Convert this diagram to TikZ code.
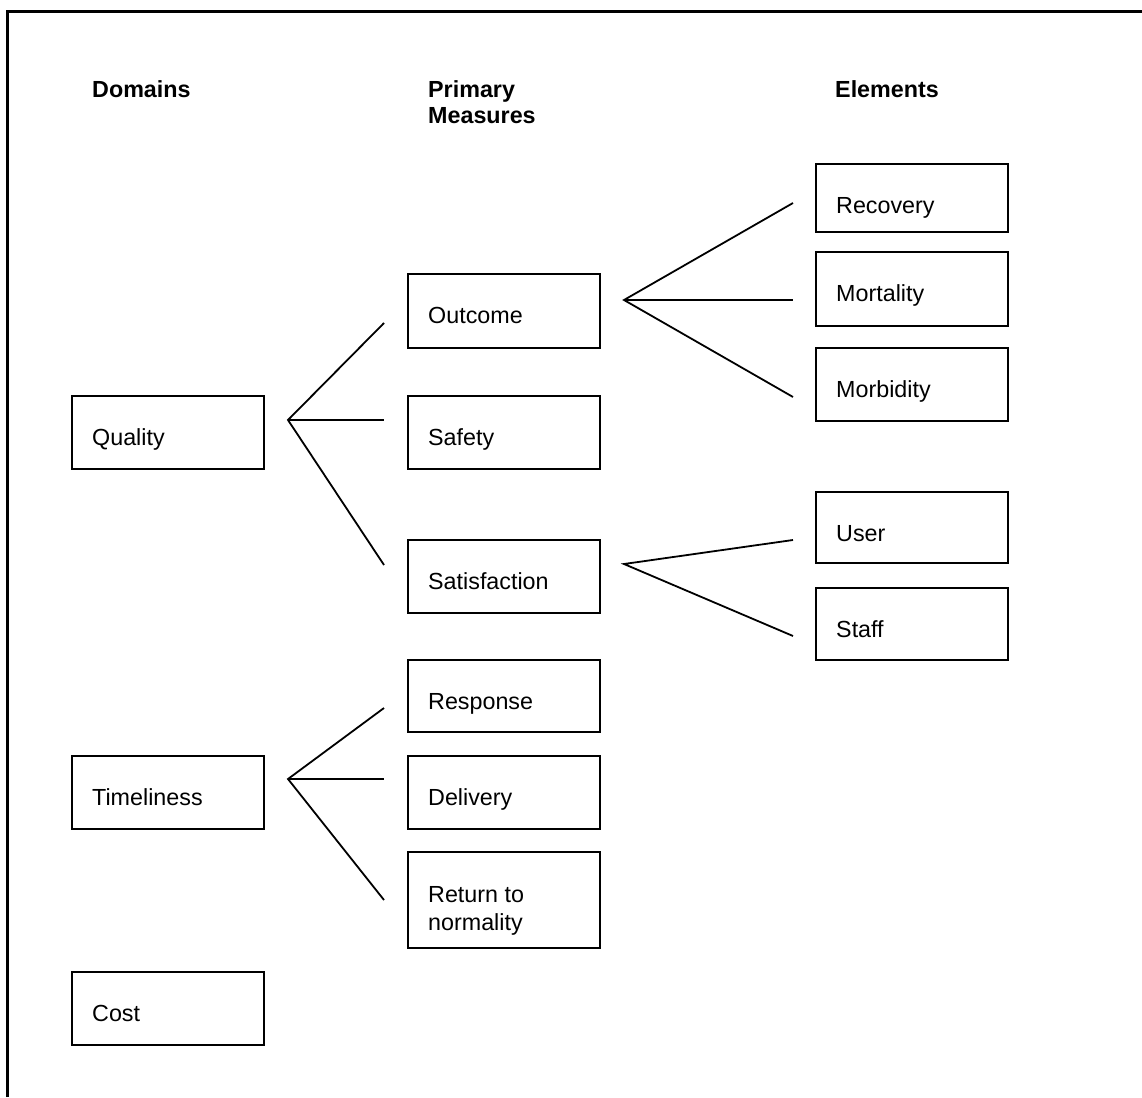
\documentclass[tikz,border=0pt]{standalone}
\usepackage{fontspec}
\setmainfont{Liberation Sans}
\begin{document}
\begin{tikzpicture}[x=1pt,y=-1pt,
  box/.style={draw, line width=1.8pt, rectangle, anchor=north west, outer sep=0pt, inner sep=0pt, minimum width=192pt},
  txt/.style={anchor=base west, inner sep=0pt, font=\fontsize{23.3}{28}\selectfont},
  hdr/.style={anchor=base west, inner sep=0pt, font=\fontsize{23.3}{26}\selectfont\bfseries},
  conn/.style={line width=1.8pt}]
\useasboundingbox (0,0) rectangle (1142,1097);
% frame
\draw[line width=3pt] (7,1097) -- (7,11.5) -- (1142,11.5);
% headers
\node[hdr] (hdom) at (92,98) {Domains};
\node[hdr] (hpm1) at (428,98) {Primary};
\node[hdr] (hpm2) at (428,124) {Measures};
\node[hdr] (hel) at (835,98) {Elements};
% domain boxes
\node[box, minimum height=73pt] (quality) at (72,396) {};
\node[box, minimum height=73pt] (timeliness) at (72,756) {};
\node[box, minimum height=73pt] (cost) at (72,972) {};
% primary measure boxes
\node[box, minimum height=74pt] (outcome) at (408,274) {};
\node[box, minimum height=73pt] (safety) at (408,396) {};
\node[box, minimum height=73pt] (satisfaction) at (408,540) {};
\node[box, minimum height=72pt] (response) at (408,660) {};
\node[box, minimum height=73pt] (delivery) at (408,756) {};
\node[box, minimum height=96pt] (return) at (408,852) {};
% element boxes
\node[box, minimum height=68pt] (recovery) at (816,164) {};
\node[box, minimum height=74pt] (mortality) at (816,252) {};
\node[box, minimum height=73pt] (morbidity) at (816,348) {};
\node[box, minimum height=71pt] (user) at (816,492) {};
\node[box, minimum height=72pt] (staff) at (816,588) {};
% texts
\node[txt] (tquality) at ([shift={(20,49)}]quality.north west) {Quality};
\node[txt] (ttimeliness) at ([shift={(20,49)}]timeliness.north west) {Timeliness};
\node[txt] (tcost) at ([shift={(20,49)}]cost.north west) {Cost};
\node[txt] (toutcome) at ([shift={(20,49)}]outcome.north west) {Outcome};
\node[txt] (tsafety) at ([shift={(20,49)}]safety.north west) {Safety};
\node[txt] (tsatisfaction) at ([shift={(20,49)}]satisfaction.north west) {Satisfaction};
\node[txt] (tresponse) at ([shift={(20,49)}]response.north west) {Response};
\node[txt] (tdelivery) at ([shift={(20,49)}]delivery.north west) {Delivery};
\node[txt] (treturn1) at ([shift={(20,50)}]return.north west) {Return to};
\node[txt] (treturn2) at ([shift={(20,78)}]return.north west) {normality};
\node[txt] (trecovery) at ([shift={(20,49)}]recovery.north west) {Recovery};
\node[txt] (tmortality) at ([shift={(20,49)}]mortality.north west) {Mortality};
\node[txt] (tmorbidity) at ([shift={(20,49)}]morbidity.north west) {Morbidity};
\node[txt] (tuser) at ([shift={(20,49)}]user.north west) {User};
\node[txt] (tstaff) at ([shift={(20,49)}]staff.north west) {Staff};
% fan coordinates
\coordinate (qa) at (288,420);
\coordinate (qe1) at (384,323);
\coordinate (qe2) at (384,420);
\coordinate (qe3) at (384,565);
\coordinate (oa) at (624,300);
\coordinate (oe1) at (793,203);
\coordinate (oe2) at (793,300);
\coordinate (oe3) at (793,397);
\coordinate (sa) at (624,564);
\coordinate (se1) at (793,540);
\coordinate (se2) at (793,636);
\coordinate (ta) at (288,779);
\coordinate (te1) at (384,708);
\coordinate (te2) at (384,779);
\coordinate (te3) at (384,900);
% connectors
\draw[conn] (qe1) -- (qa) -- (qe3);
\draw[conn] (qa) -- (qe2);
\draw[conn] (oe1) -- (oa) -- (oe3);
\draw[conn] (oa) -- (oe2);
\draw[conn] (se1) -- (sa) -- (se2);
\draw[conn] (te1) -- (ta) -- (te3);
\draw[conn] (ta) -- (te2);
\end{tikzpicture}
\end{document}
